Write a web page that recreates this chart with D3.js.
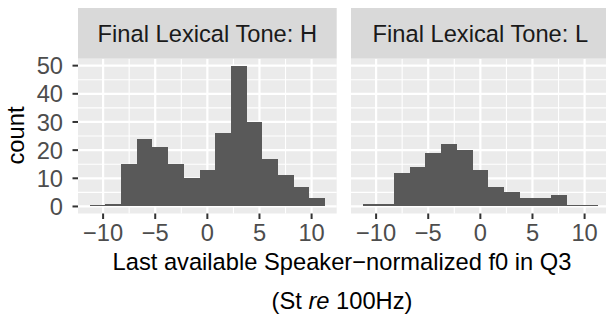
<!DOCTYPE html>
<html>
<head>
<meta charset="utf-8">
<script src="https://cdn.jsdelivr.net/npm/d3@7"></script>
<style>
  body { margin: 0; background: #fff; }
  text { font-family: "Liberation Sans", Arial, sans-serif; }
</style>
</head>
<body>
<div id="chart"></div>
<script>
// histogram bins (shared by both facets)
const binEdges = [-11.28, -9.776, -8.272, -6.768, -5.264, -3.76, -2.256, -0.752,
  0.752, 2.256, 3.76, 5.264, 6.768, 8.272, 9.776, 11.28];
const facets = ["H", "L"];
const countsH = [0, 1, 15, 24, 21, 15, 10, 13, 26, 50, 30, 17, 11, 7, 3];
const countsL = [1, 1, 12, 14, 19, 22, 20, 13, 7, 5, 3, 3, 4, 0, 0];
const xTicks = [-10, -5, 0, 5, 10];
const xMinor = [-7.5, -2.5, 2.5, 7.5];
const yTicks = [0, 10, 20, 30, 40, 50];
const yMinor = [5, 15, 25, 35, 45];

const W = 606, H = 320;
const FS = 23.7;
const panelW = 258.7, panelTop = 58.6, panelBottom = 213.5;
const panelLefts = [78, 351];
const stripTop = 8;

const svg = d3.select("#chart").append("svg")
  .attr("width", W).attr("height", H);

// x range with ggplot-style 5% expansion
const lo = binEdges[0], hi = binEdges[binEdges.length - 1];
const pad = (hi - lo) * 0.05;
const y = d3.scaleLinear().domain([-2.5, 52.5]).range([panelBottom, panelTop]);

const seriesByFacet = { H: countsH, L: countsL };

facets.forEach((f, fi) => {
  const x0 = panelLefts[fi];
  const x = d3.scaleLinear().domain([lo - pad, hi + pad]).range([x0, x0 + panelW]);
  const g = svg.append("g");

  // panel background
  g.append("rect")
    .attr("x", x0).attr("y", panelTop)
    .attr("width", panelW).attr("height", panelBottom - panelTop)
    .attr("fill", "#ebebeb");

  // minor grid
  g.selectAll(".ymin").data(yMinor).enter().append("line")
    .attr("x1", x0).attr("x2", x0 + panelW)
    .attr("y1", d => y(d)).attr("y2", d => y(d))
    .attr("stroke", "#fff").attr("stroke-width", 1.1);
  g.selectAll(".xmin").data(xMinor).enter().append("line")
    .attr("y1", panelTop).attr("y2", panelBottom)
    .attr("x1", d => x(d)).attr("x2", d => x(d))
    .attr("stroke", "#fff").attr("stroke-width", 1.1);
  // major grid
  g.selectAll(".ymaj").data(yTicks).enter().append("line")
    .attr("x1", x0).attr("x2", x0 + panelW)
    .attr("y1", d => y(d)).attr("y2", d => y(d))
    .attr("stroke", "#fff").attr("stroke-width", 2.2);
  g.selectAll(".xmaj").data(xTicks).enter().append("line")
    .attr("y1", panelTop).attr("y2", panelBottom)
    .attr("x1", d => x(d)).attr("x2", d => x(d))
    .attr("stroke", "#fff").attr("stroke-width", 2.2);

  // bars (zero-count bins still show as a hairline, like the png device does)
  const counts = seriesByFacet[f];
  g.selectAll(".bar").data(counts).enter().append("rect")
    .attr("x", (d, i) => x(binEdges[i]))
    .attr("width", (d, i) => x(binEdges[i + 1]) - x(binEdges[i]))
    .attr("y", d => Math.min(y(d), y(0) - 1))
    .attr("height", d => Math.max(y(0) - y(d), 1))
    .attr("fill", "#595959")
    .attr("shape-rendering", "crispEdges");

  // strip
  g.append("rect")
    .attr("x", x0).attr("y", stripTop)
    .attr("width", panelW).attr("height", panelTop - stripTop)
    .attr("fill", "#d9d9d9");
  g.append("text")
    .attr("x", x0 + panelW / 2).attr("y", 41.5)
    .attr("text-anchor", "middle")
    .attr("font-size", FS).attr("fill", "#1a1a1a")
    .text("Final Lexical Tone: " + f);

  // x axis
  const xAxis = g.append("g");
  xAxis.selectAll("line").data(xTicks).enter().append("line")
    .attr("x1", d => x(d)).attr("x2", d => x(d))
    .attr("y1", panelBottom).attr("y2", panelBottom + 5.5)
    .attr("stroke", "#333").attr("stroke-width", 2);
  xAxis.selectAll("text").data(xTicks).enter().append("text")
    .attr("x", d => x(d)).attr("y", 241)
    .attr("text-anchor", "middle")
    .attr("font-size", FS).attr("fill", "#4d4d4d")
    .text(d => d3.format("d")(d));

  // y axis on first panel only
  if (fi === 0) {
    const yAxis = g.append("g");
    yAxis.selectAll("line").data(yTicks).enter().append("line")
      .attr("x1", x0 - 5.5).attr("x2", x0)
      .attr("y1", d => y(d)).attr("y2", d => y(d))
      .attr("stroke", "#333").attr("stroke-width", 2);
    yAxis.selectAll("text").data(yTicks).enter().append("text")
      .attr("x", 63).attr("y", d => y(d))
      .attr("dy", "0.36em")
      .attr("text-anchor", "end")
      .attr("font-size", FS).attr("fill", "#4d4d4d")
      .text(d => d);
  }
});

// axis titles
svg.append("text")
  .attr("transform", "translate(23.5,135.5) rotate(-90)")
  .attr("text-anchor", "middle")
  .attr("font-size", FS).attr("fill", "#000")
  .text("count");

const titleX = 342;
svg.append("text")
  .attr("x", titleX).attr("y", 270)
  .attr("text-anchor", "middle")
  .attr("font-size", FS).attr("fill", "#000")
  .text("Last available Speaker\u2212normalized f0 in Q3");

const t2 = svg.append("text")
  .attr("x", titleX).attr("y", 309)
  .attr("text-anchor", "middle")
  .attr("font-size", FS).attr("fill", "#000");
t2.append("tspan").text("(St ");
t2.append("tspan").attr("font-style", "italic").text("re");
t2.append("tspan").text(" 100Hz)");
</script>
</body>
</html>
